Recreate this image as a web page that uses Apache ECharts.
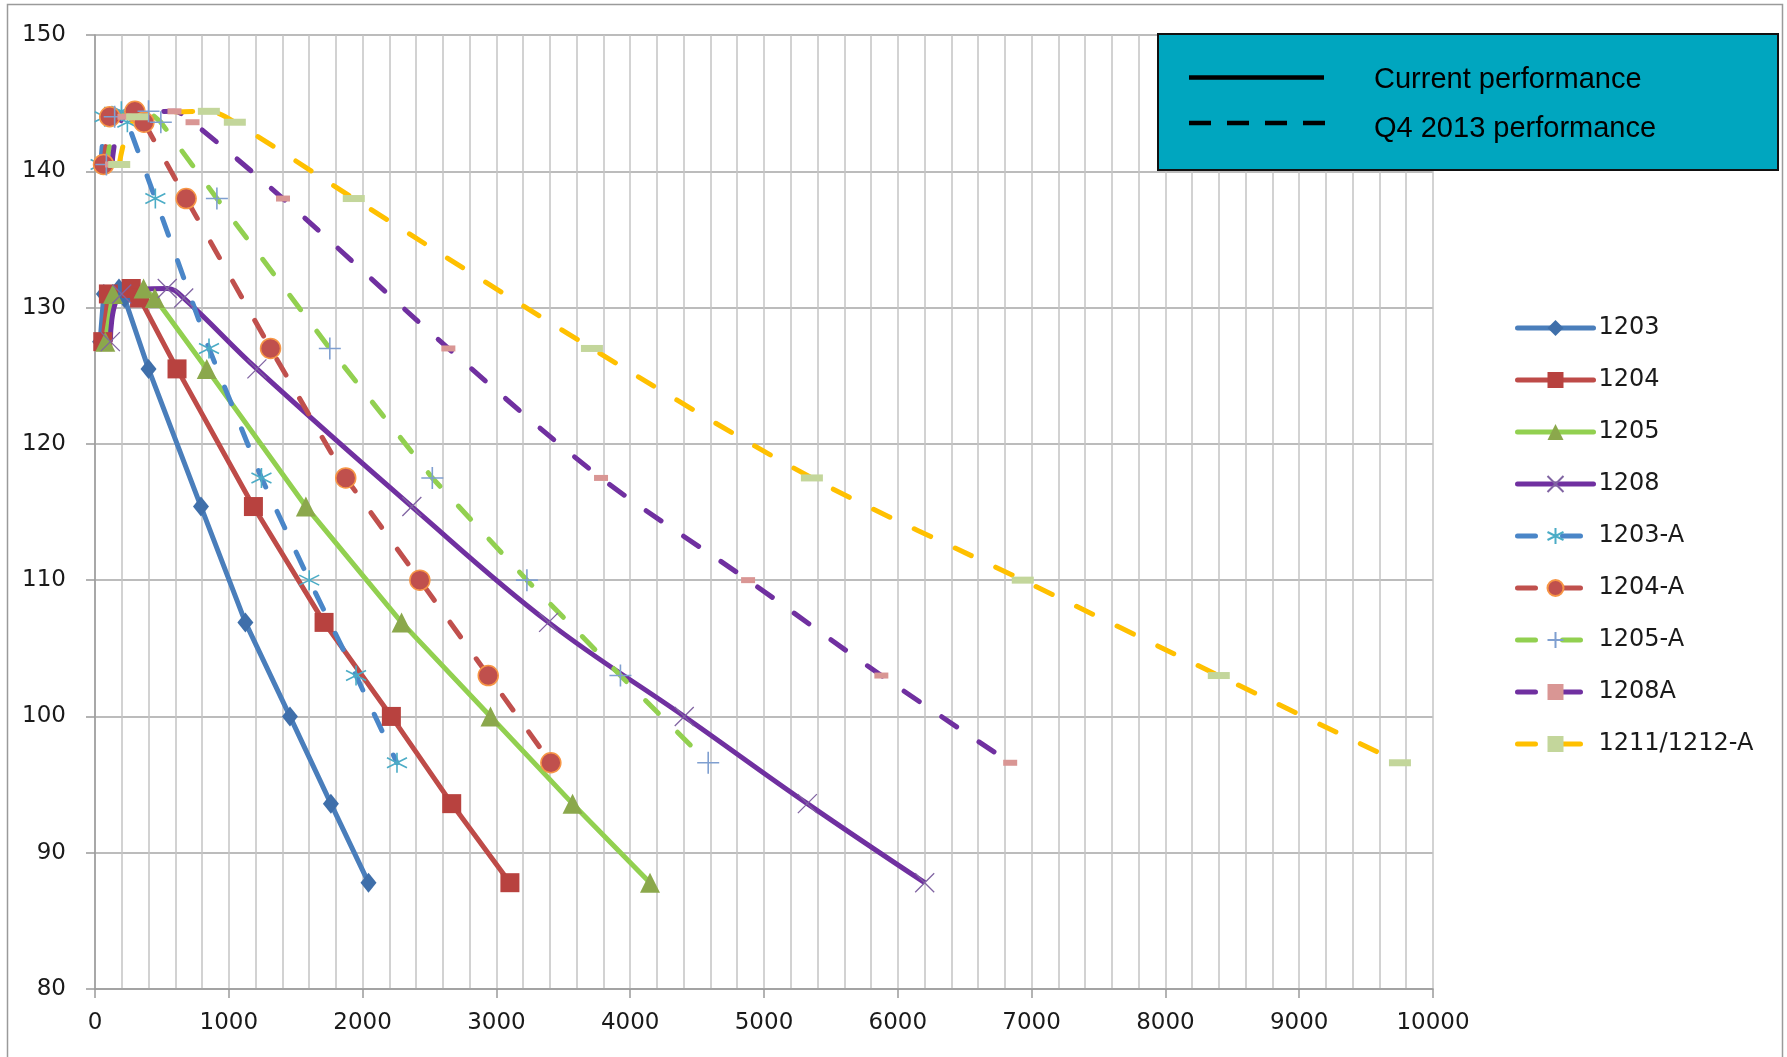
<!DOCTYPE html>
<html>
<head>
<meta charset="utf-8">
<script src="https://cdn.jsdelivr.net/npm/echarts@6/dist/echarts.min.js"></script>
<style>
  html, body { margin: 0; padding: 0; background: #fff; }
  #chart { width: 1787px; height: 1057px; }
</style>
</head>
<body>
<div id="chart"></div>
<script>
// head values shared by the curves (current / Q4 2013)
const yCurrent = [127.5, 131, 131.4, 130.7, 125.5, 115.4, 106.9, 100, 93.6, 87.8];
const yQ4 = [140.5, 144, 144.4, 143.6, 138, 127, 117.5, 110, 103, 96.6];

// flow values per curve
const x1203 = [38, 66, 179, 220, 400, 792, 1124, 1457, 1763, 2044];
const x1204 = [58, 100, 271, 333, 613, 1184, 1712, 2215, 2666, 3101];
const x1205 = [77, 134, 363, 447, 835, 1576, 2291, 2956, 3569, 4148];
const x1208 = [115, 200, 540, 663, 1210, 2368, 3390, 4404, 5324, 6201];
const x1203A = [42, 73, 197, 242, 451, 852, 1244, 1601, 1951, 2257];
const x1204A = [64, 110, 298, 366, 681, 1312, 1874, 2428, 2939, 3407];
const x1205A = [85, 147, 400, 492, 911, 1755, 2521, 3228, 3927, 4583];
const x1208A = [127, 220, 594, 729, 1405, 2641, 3782, 4881, 5877, 6840];
const x1211A = [181, 315, 851, 1045, 1934, 3714, 5358, 6934, 8399, 9753];

const boxLabels = ['Current performance', 'Q4 2013 performance'];

const pts = (xs, ys) => xs.map((x, i) => [x, ys[i]]);

const xMark = 'path://M0,0L10,10M10,0L0,10';
const starMark = 'path://M5,0L5,10M0.7,2.5L9.3,7.5M0.7,7.5L9.3,2.5';
const plusMark = 'path://M5,0L5,10M0,5L10,5';
const dash = [18, 27];

function solid(name, data, color, symbol, size, itemStyle, smooth) {
  return {
    name, type: 'line', data, symbol, symbolSize: size, smooth: smooth || false,
    lineStyle: { color, width: 5 },
    itemStyle
  };
}
function dashed(name, data, color, symbol, size, itemStyle, smooth) {
  return {
    name, type: 'line', data, symbol, symbolSize: size, smooth: smooth || false,
    lineStyle: { color, width: 5, type: dash, cap: 'round' },
    itemStyle
  };
}

const series = [
  solid('1203', pts(x1203, yCurrent), '#4A7EBB', 'diamond', [16, 20], { color: '#3F6FAA' }),
  solid('1204', pts(x1204, yCurrent), '#BE4B48', 'rect', 19, { color: '#B8423F' }),
  solid('1205', pts(x1205, yCurrent), '#92D050', 'triangle', 20, { color: '#8BA84C' }),
  solid('1208', pts(x1208, yCurrent), '#7030A0', xMark, 19,
    { color: 'rgba(0,0,0,0)', borderColor: '#8064A2', borderWidth: 1.3 }, 0.4),
  dashed('1203-A', pts(x1203A, yQ4), '#4A86C8', starMark, 20,
    { color: 'rgba(0,0,0,0)', borderColor: '#4BACC6', borderWidth: 1.6 }),
  dashed('1204-A', pts(x1204A, yQ4), '#C0504D', 'circle', 20,
    { color: '#C0504D', borderColor: '#F79646', borderWidth: 1.5 }),
  dashed('1205-A', pts(x1205A, yQ4), '#92D050', plusMark, 22,
    { color: 'rgba(0,0,0,0)', borderColor: '#7F9FD0', borderWidth: 1.6 }),
  dashed('1208A', pts(x1208A, yQ4), '#7030A0', 'rect', [14, 6], { color: '#D99694' }, 0.3),
  dashed('1211/1212-A', pts(x1211A, yQ4), '#FFC000', 'rect', [22, 7], { color: '#C3D69B' }, 0.3)
];

const chart = echarts.init(document.getElementById('chart'));
chart.setOption({
  animation: false,
  backgroundColor: '#fff',
  grid: { left: 95, right: 354, top: 35, bottom: 68 },
  xAxis: {
    type: 'value', min: 0, max: 10000, interval: 1000,
    axisLine: { onZero: false, lineStyle: { color: '#9a9a9a', width: 1.5 } },
    axisTick: { show: true, length: 9, lineStyle: { color: '#9a9a9a', width: 1.5 } },
    axisLabel: { margin: 23, color: '#1a1a1a', fontFamily: 'DejaVu Sans', fontSize: 23,
      formatter: v => String(v) },
    splitLine: { show: true, lineStyle: { color: '#c4c4c4', width: 1.5 } },
    minorTick: { show: false, splitNumber: 5 },
    minorSplitLine: { show: true, lineStyle: { color: '#c4c4c4', width: 1.5 } }
  },
  yAxis: {
    type: 'value', min: 80, max: 150, interval: 10,
    axisLine: { show: true, lineStyle: { color: '#9a9a9a', width: 1.5 } },
    axisTick: { show: true, length: 9, lineStyle: { color: '#9a9a9a', width: 1.5 } },
    axisLabel: { margin: 29, color: '#1a1a1a', fontFamily: 'DejaVu Sans', fontSize: 23 },
    splitLine: { show: true, lineStyle: { color: '#a6a6a6', width: 1.5 } }
  },
  legend: {
    orient: 'vertical', left: 1510, top: 311,
    itemWidth: 76, itemHeight: 20, itemGap: 28,
    textStyle: { fontFamily: 'DejaVu Sans', fontSize: 24, color: '#1a1a1a', lineHeight: 20 },
    data: series.map(s => ({
      name: s.name,
      lineStyle: { color: s.lineStyle.color, width: 5, type: s.lineStyle.type || 'solid', cap: 'round' }
    }))
  },
  series,
  graphic: [
    {
      type: 'rect', z: -10, silent: true,
      shape: { x: 7.5, y: 4.5, width: 1775, height: 1070 },
      style: { fill: 'none', stroke: '#9a9a9a', lineWidth: 1.5 }
    },
    {
      type: 'rect', z: 100, zlevel: 1, silent: true,
      shape: { x: 1158, y: 34, width: 620, height: 136 },
      style: { fill: '#00A6BF', stroke: '#111', lineWidth: 2 }
    },
    {
      type: 'line', z: 101, zlevel: 1, silent: true,
      shape: { x1: 1189, y1: 77.5, x2: 1324, y2: 77.5 },
      style: { stroke: '#000', lineWidth: 4.5 }
    },
    {
      type: 'line', z: 101, zlevel: 1, silent: true,
      shape: { x1: 1189, y1: 123, x2: 1325, y2: 123 },
      style: { stroke: '#000', lineWidth: 4.5, lineDash: [22, 16] }
    },
    {
      type: 'text', z: 101, zlevel: 1, silent: true, x: 1374, y: 80,
      style: { text: boxLabels[0], fill: '#000', font: '29px "Liberation Sans"', verticalAlign: 'middle' }
    },
    {
      type: 'text', z: 101, zlevel: 1, silent: true, x: 1374, y: 129,
      style: { text: boxLabels[1], fill: '#000', font: '29px "Liberation Sans"', verticalAlign: 'middle' }
    }
  ]
});
</script>
</body>
</html>
